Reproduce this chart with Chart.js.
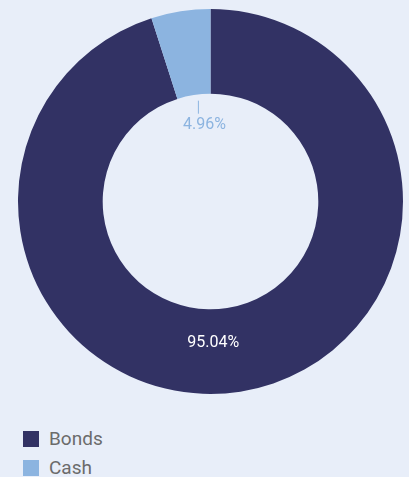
<!DOCTYPE html>
<html><head><meta charset="utf-8">
<script src="https://cdn.jsdelivr.net/npm/chart.js@4"></script>
<style>
html,body{margin:0;padding:0;background:#e8eef9;width:409px;height:477px;overflow:hidden;font-family:Roboto,sans-serif;}
#wrap{position:absolute;left:0;top:0;width:409px;height:400px;}
#legend{position:absolute;left:23px;top:424px;}
.item{display:flex;align-items:center;height:29px;color:#6b6b6b;font-size:19px;}
.box{width:16px;height:16px;margin-right:10px;}
</style></head>
<body>
<div id="wrap"><canvas id="c"></canvas></div>
<div id="legend"></div>
<script>
const categories = ["Bonds", "Cash"];
const values = [95.04, 4.96];
const colors = ["#323264", "#8cb4e0"];
const labelColors = ["#ffffff", "#8cb4e0"];

const labelPlugin = {
  id: 'sliceLabels',
  afterDatasetsDraw(chart) {
    const ctx = chart.ctx;
    const meta = chart.getDatasetMeta(0);
    ctx.save();
    ctx.font = '16px Roboto, sans-serif';
    ctx.textAlign = 'center';
    ctx.textBaseline = 'middle';
    meta.data.forEach((arc, i) => {
      const p = arc.getProps(['x','y','startAngle','endAngle','innerRadius','outerRadius'], true);
      const mid = (p.startAngle + p.endAngle) / 2;
      const txt = values[i].toFixed(2) + '%';
      ctx.fillStyle = labelColors[i];
      if (values[i] > 20) {
        const r = p.innerRadius + (p.outerRadius - p.innerRadius) * 0.4;
        ctx.fillText(txt, p.x + Math.cos(mid) * 18, p.y + r);
      } else {
        const tx = p.x + Math.cos(mid) * 78;
        ctx.strokeStyle = labelColors[i];
        ctx.lineWidth = 1;
        ctx.beginPath();
        ctx.moveTo(tx, p.y - p.innerRadius + 7);
        ctx.lineTo(tx, p.y - p.innerRadius + 20);
        ctx.stroke();
        ctx.fillText(txt, tx + 6, p.y - p.innerRadius + 31);
      }
    });
    ctx.restore();
  }
};

new Chart(document.getElementById('c'), {
  type: 'doughnut',
  data: { labels: categories, datasets: [{ data: values, backgroundColor: colors, borderWidth: 0 }] },
  options: {
    responsive: true, maintainAspectRatio: false, animation: false,
    cutout: '56%',
    layout: { padding: { left: 18, right: 6, top: 9, bottom: 6 } },
    plugins: { legend: { display: false }, tooltip: { enabled: false } }
  },
  plugins: [labelPlugin]
});

const lg = document.getElementById('legend');
categories.forEach((c, i) => {
  const d = document.createElement('div'); d.className = 'item';
  const b = document.createElement('div'); b.className = 'box'; b.style.background = colors[i];
  const t = document.createElement('span'); t.textContent = c;
  d.appendChild(b); d.appendChild(t); lg.appendChild(d);
});
</script>
</body></html>
